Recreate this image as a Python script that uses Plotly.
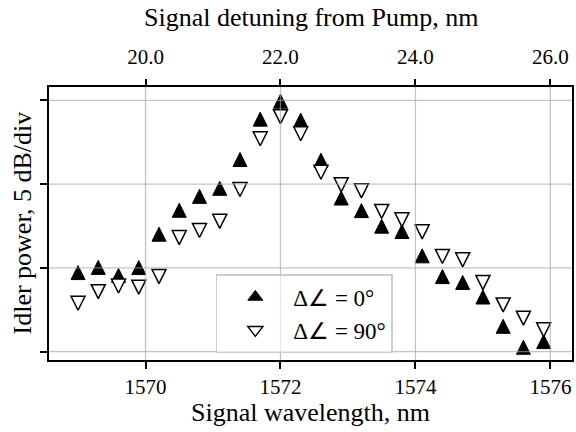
import plotly.graph_objects as go

# Signal wavelength sweep (nm)
wavelength_nm = [1569.0, 1569.3, 1569.6, 1569.9, 1570.2, 1570.5, 1570.8, 1571.1,
                 1571.4, 1571.7, 1572.0, 1572.3, 1572.6, 1572.9, 1573.2, 1573.5,
                 1573.8, 1574.1, 1574.4, 1574.7, 1575.0, 1575.3, 1575.6, 1575.9]

# Relative idler power (dB), polarisation offset 0 deg
idler_0deg_db = [-10.28, -9.97, -10.45, -9.98, -7.99, -6.56, -5.73, -5.25,
                 -3.53, -1.12, -0.05, -1.18, -3.57, -5.83, -6.58, -7.51,
                 -7.83, -9.28, -10.52, -10.87, -11.74, -13.49, -14.74, -14.40]

# Relative idler power (dB), polarisation offset 90 deg
idler_90deg_db = [-12.11, -11.42, -11.08, -11.15, -10.52, -8.19, -7.77, -7.22,
                  -5.32, -2.29, -0.97, -1.99, -4.29, -5.04, -5.40, -6.63,
                  -7.13, -7.85, -9.32, -9.52, -10.88, -12.21, -13.00, -13.70]

series_names = ["Δ∠ = 0°", "Δ∠ = 90°"]

pump_wavelength_nm = 1550.0
bottom_ticks = [1570, 1572, 1574, 1576]
top_ticks = [20.0, 22.0, 24.0, 26.0]
y_ticks_db = [-15, -10, -5, 0]

x_range = [1568.57, 1576.32]
y_range = [-15.5, 0.8]

FONT = "Liberation Serif"
MS = 14

fig = go.Figure()

# data markers: isosceles triangles centred on each point
fig.add_trace(go.Scatter(
    x=wavelength_nm, y=idler_0deg_db, mode="markers", showlegend=False,
    marker=dict(symbol="arrow-down", angle=180, standoff=MS / 2, size=MS,
                color="black", line=dict(color="black", width=1)),
))
fig.add_trace(go.Scatter(
    x=wavelength_nm, y=idler_90deg_db, mode="markers", showlegend=False,
    marker=dict(symbol="arrow-down", angle=0, standoff=MS / 2, size=MS,
                color="white", line=dict(color="black", width=1.5)),
))

# legend entries
fig.add_trace(go.Scatter(
    x=[None], y=[None], mode="markers", name=series_names[0],
    marker=dict(symbol="triangle-up", size=13, color="black",
                line=dict(color="black", width=1)),
))
fig.add_trace(go.Scatter(
    x=[None], y=[None], mode="markers", name=series_names[1],
    marker=dict(symbol="triangle-down", size=13, color="white",
                line=dict(color="black", width=1.5)),
))

# detuning axis carrier (invisible)
fig.add_trace(go.Scatter(
    x=[w - pump_wavelength_nm for w in wavelength_nm], y=idler_0deg_db,
    xaxis="x2", mode="markers", marker=dict(opacity=0),
    showlegend=False, hoverinfo="skip",
))

# grid drawn over the markers
grid_color = "rgba(165,165,165,0.65)"
for v in bottom_ticks:
    fig.add_shape(type="line", xref="x", yref="paper", x0=v, x1=v, y0=0, y1=1,
                  line=dict(color=grid_color, width=1.3), layer="above")
for v in y_ticks_db:
    fig.add_shape(type="line", xref="paper", yref="y", x0=0, x1=1, y0=v, y1=v,
                  line=dict(color=grid_color, width=1.3), layer="above")

tick_font = dict(family=FONT, size=21, color="black")
label_font = dict(family=FONT, size=26, color="black")

fig.update_layout(
    width=576, height=432,
    margin=dict(l=49, r=2, t=87, b=72),
    paper_bgcolor="white", plot_bgcolor="white",
    font=dict(family=FONT, color="black"),
    xaxis=dict(
        range=x_range, tickvals=bottom_ticks, ticks="outside", ticklen=7,
        tickwidth=1.5, tickcolor="black", showline=True, linecolor="black",
        linewidth=2, mirror=True, showgrid=False, zeroline=False,
        tickfont=tick_font, ticklabelstandoff=0,
    ),
    xaxis2=dict(
        range=[x_range[0] - pump_wavelength_nm, x_range[1] - pump_wavelength_nm],
        overlaying="x", side="top", tickvals=top_ticks, tickformat=".1f",
        ticks="outside", ticklen=7, tickwidth=1.5, tickcolor="black",
        showline=False, showgrid=False, zeroline=False, tickfont=tick_font,
        ticklabelstandoff=7,
    ),
    yaxis=dict(
        range=y_range, tickvals=y_ticks_db, ticks="outside", ticklen=7,
        tickwidth=1.5, tickcolor="black", showticklabels=False, showline=True,
        linecolor="black", linewidth=2, mirror=True, showgrid=False,
        zeroline=False,
    ),
    legend=dict(
        x=0.319, y=0.315, xanchor="left", yanchor="top",
        bgcolor="rgba(255,255,255,0.6)", bordercolor="#cccccc", borderwidth=1.5,
        font=dict(family=FONT, size=23, color="black"), itemwidth=66,
    ),
    showlegend=True,
)

fig.add_annotation(text="Signal wavelength, nm", xref="paper", yref="paper",
                   x=0.5, y=0, yanchor="middle", yshift=-52, showarrow=False,
                   font=label_font)
fig.add_annotation(text="Signal detuning from Pump, nm", xref="paper", yref="paper",
                   x=0.5, y=1, yanchor="middle", yshift=70, showarrow=False,
                   font=label_font)
fig.add_annotation(text="Idler power, 5 dB/div", xref="paper", yref="paper",
                   x=0, y=0.5, xanchor="center", xshift=-27, textangle=-90,
                   showarrow=False, font=label_font)

fig.write_html("out.html")
